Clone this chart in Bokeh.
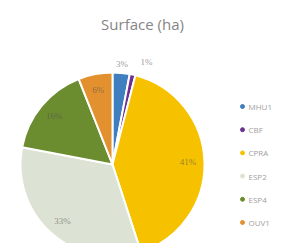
import math
from bokeh.plotting import figure
from bokeh.models import ColumnDataSource
from bokeh.core.properties import value
from bokeh.embed import file_html
from bokeh.resources import INLINE

categories = ["MHU1", "CBF", "CPRA", "ESP2", "ESP4", "OUV1"]
shares = [3, 1, 41, 33, 16, 6]
colors = ["#3f7fc0", "#6b3291", "#f6c200", "#dde3d4", "#6b8d30", "#e3912f"]
label_texts = ["3%", "1%", "41%", "33%", "16%", "6%"]
title_text = "Surface (ha)"

W, H = 274, 243
cx, cy = 112, H - 164
R = 92

total = float(sum(shares))
starts, ends, lx, ly = [], [], [], []
acc = 0.0
for s in shares:
    a0 = math.pi / 2 - acc / total * 2 * math.pi
    acc += s
    a1 = math.pi / 2 - acc / total * 2 * math.pi
    starts.append(a0)
    ends.append(a1)
    mid = (a0 + a1) / 2
    small = s / total < 0.04
    rr = 1.1 * R if small else 0.82 * R
    lx.append(cx + rr * math.cos(mid) + (12 if s / total < 0.02 else 0))
    ly.append(cy + rr * math.sin(mid) + (4 if s / total < 0.02 else 0))

p = figure(width=W, height=H, x_range=(0, W), y_range=(0, H),
           output_backend="svg", toolbar_location=None, min_border=0)
p.axis.visible = False
p.grid.visible = False
p.outline_line_color = None
p.background_fill_color = "white"

src = ColumnDataSource(dict(start=starts, end=ends, color=colors, cat=categories,
                            lx=lx, ly=ly, lab=label_texts))
p.wedge(x=cx, y=cy, radius=R, start_angle="start", end_angle="end",
        direction="clock", fill_color="color", line_color="white",
        line_width=2, source=src)
p.text(x="lx", y="ly", text="lab", source=src, text_align="center",
       text_baseline="middle", text_font=value("Liberation Serif"),
       text_font_size="9px", text_color="#505050", text_alpha=0.6)

p.text(x=[142], y=[H - 23], text=[title_text], text_align="center",
       text_baseline="middle", text_font=value("Open Sans"),
       text_font_size="15px", text_color="#858585")

leg_y = [H - (106 + 23.2 * i) for i in range(len(categories))]
leg_src = ColumnDataSource(dict(x=[242] * len(categories), tx=[248] * len(categories),
                                y=leg_y, cat=categories, color=colors))
p.scatter(x="x", y="y", size=4, color="color", source=leg_src)
p.text(x="tx", y="y", text="cat", source=leg_src, text_baseline="middle",
       text_font=value("Open Sans"), text_font_size="8px", text_color="#a0a0a0")

open("out.html", "w").write(file_html(p, INLINE))
